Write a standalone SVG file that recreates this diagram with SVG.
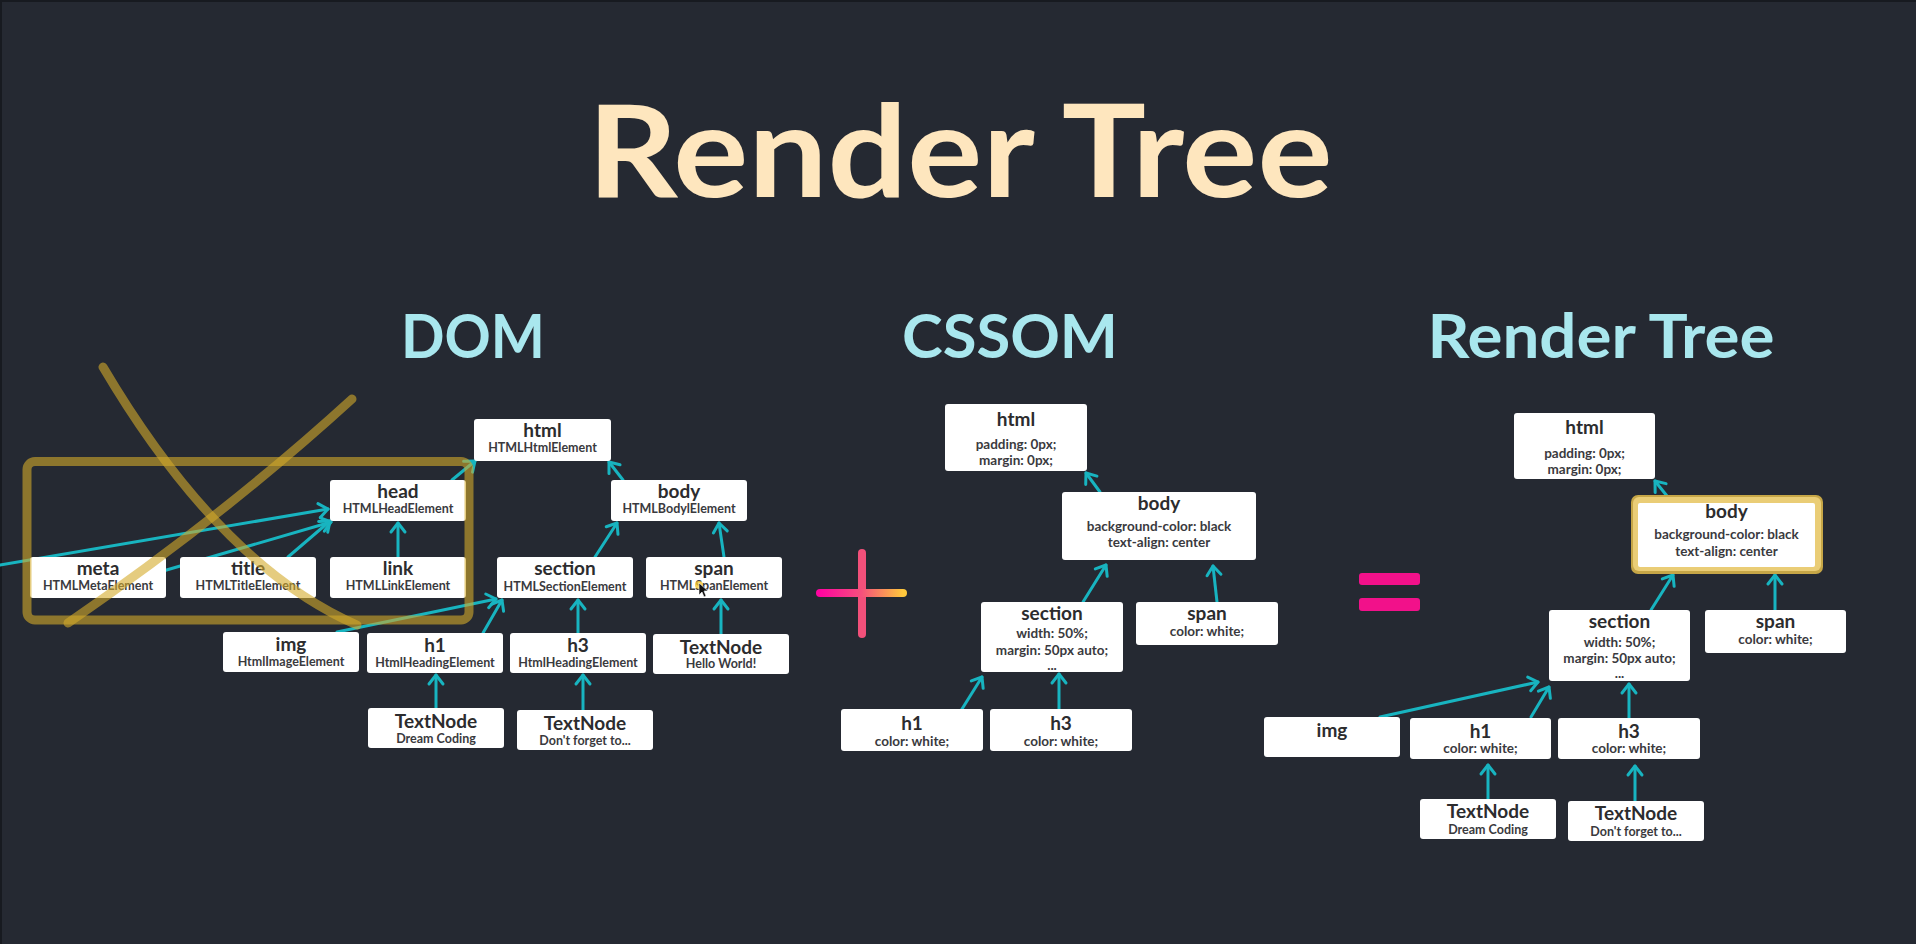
<svg xmlns="http://www.w3.org/2000/svg" width="1916" height="944" viewBox="0 0 1916 944">
  <defs>
    <style>
      .bg { fill: #252932; }
      .box { fill: #ffffff; rx: 3px; ry: 3px; }
      .t { font-family: Lato, "Open Sans", sans-serif; font-weight: 700; font-size: 19px; fill: #2c2c2e; text-anchor: middle; }
      .s { font-family: Lato, "Open Sans", sans-serif; font-weight: 700; font-size: 12.5px; fill: #3a3a3e; text-anchor: middle; }
      .c { font-family: Lato, "Open Sans", sans-serif; font-weight: 700; font-size: 13.5px; fill: #3a3a3e; text-anchor: middle; }
      .h1 { font-family: Lato, "Open Sans", sans-serif; font-weight: 700; fill: #FEE6BE; text-anchor: middle; }
      .h2 { font-family: Lato, "Open Sans", sans-serif; font-weight: 700; fill: #A9E7EE; text-anchor: middle; }
      .edge { fill: none; stroke: #18B4C0; stroke-width: 3; stroke-linecap: round; marker-end: url(#arr); }
      .mark { fill: none; stroke: #D4AA2A; stroke-opacity: 0.6; stroke-width: 9; stroke-linecap: round; }
    </style>
    <marker id="arr" markerUnits="userSpaceOnUse" markerWidth="24" markerHeight="24" viewBox="-12 -12 24 24" refX="0" refY="0" orient="auto" overflow="visible">
      <path d="M-9,-7 L0,0 L-9,7" fill="none" stroke="#18B4C0" stroke-width="3" stroke-linecap="round" stroke-linejoin="round"/>
    </marker>
    <linearGradient id="plusGrad" x1="820" y1="0" x2="903" y2="0" gradientUnits="userSpaceOnUse">
      <stop offset="0" stop-color="#FF05A0"/>
      <stop offset="0.5" stop-color="#F6507C"/>
      <stop offset="1" stop-color="#FFC83C"/>
    </linearGradient>
  </defs>

  <rect class="bg" x="0" y="0" width="1916" height="944"/>
  <rect x="0" y="0" width="1916" height="2" fill="#171a20"/>
  <rect x="0" y="0" width="2" height="944" fill="#171a20"/>

  <!-- headings -->
  <text class="h1" x="960" y="197" font-size="128" textLength="745" lengthAdjust="spacingAndGlyphs">Render Tree</text>
  <text class="h2" x="473" y="358" font-size="62" textLength="144" lengthAdjust="spacingAndGlyphs">DOM</text>
  <text class="h2" x="1010" y="358" font-size="62" textLength="216" lengthAdjust="spacingAndGlyphs">CSSOM</text>
  <text class="h2" x="1601" y="358" font-size="62" textLength="347" lengthAdjust="spacingAndGlyphs">Render Tree</text>

  <!-- connectors -->
  <g id="connectors">
    <!-- DOM -->
    <path class="edge" d="M0,565 L328,509"/>
    <path class="edge" d="M98,590 L331,522"/>
    <path class="edge" d="M288,557 L330,521"/>
    <path class="edge" d="M398,557 L398,523"/>
    <path class="edge" d="M452,480 L475,461"/>
    <path class="edge" d="M623,480 L609,462"/>
    <path class="edge" d="M595,557 L617,523"/>
    <path class="edge" d="M724,557 L719,523"/>
    <path class="edge" d="M337,632 L496,599"/>
    <path class="edge" d="M483,633 L502,600"/>
    <path class="edge" d="M578,633 L578,600"/>
    <path class="edge" d="M721,634 L721,600"/>
    <path class="edge" d="M436,708 L436,675"/>
    <path class="edge" d="M583,710 L583,675"/>
    <!-- CSSOM -->
    <path class="edge" d="M1100,492 L1086,473"/>
    <path class="edge" d="M1083,602 L1106,565"/>
    <path class="edge" d="M1217,602 L1213,566"/>
    <path class="edge" d="M962,709 L982,677"/>
    <path class="edge" d="M1059,709 L1059,674"/>
    <!-- Render Tree -->
    <path class="edge" d="M1667,496 L1655,481"/>
    <path class="edge" d="M1651,610 L1673,575"/>
    <path class="edge" d="M1775,610 L1775,575"/>
    <path class="edge" d="M1380,717 L1538,682"/>
    <path class="edge" d="M1531,717 L1549,687"/>
    <path class="edge" d="M1629,718 L1629,684"/>
    <path class="edge" d="M1488,799 L1488,765"/>
    <path class="edge" d="M1635,801 L1635,766"/>
  </g>

  <!-- DOM nodes -->
  <g id="dom-html"><rect class="box" x="474" y="419" width="137" height="42"/><text class="t" x="542.5" y="437">html</text><text class="s" x="542.5" y="452">HTMLHtmlElement</text></g>
  <g id="dom-head"><rect class="box" x="330" y="480" width="136" height="41"/><text class="t" x="398" y="498">head</text><text class="s" x="398" y="513">HTMLHeadElement</text></g>
  <g id="dom-body"><rect class="box" x="611" y="480" width="136" height="41"/><text class="t" x="679" y="498">body</text><text class="s" x="679" y="513">HTMLBodylElement</text></g>
  <g id="dom-meta"><rect class="box" x="30" y="557" width="136" height="41"/><text class="t" x="98" y="575">meta</text><text class="s" x="98" y="590">HTMLMetaElement</text></g>
  <g id="dom-title"><rect class="box" x="180" y="557" width="136" height="41"/><text class="t" x="248" y="575">title</text><text class="s" x="248" y="590">HTMLTitleElement</text></g>
  <g id="dom-link"><rect class="box" x="330" y="557" width="136" height="41"/><text class="t" x="398" y="575">link</text><text class="s" x="398" y="590">HTMLLinkElement</text></g>
  <g id="dom-section"><rect class="box" x="497" y="557" width="136" height="41"/><text class="t" x="565" y="575">section</text><text class="s" x="565" y="591">HTMLSectionElement</text></g>
  <g id="dom-span"><rect class="box" x="646" y="557" width="136" height="41"/><text class="t" x="714" y="575">span</text><text class="s" x="714" y="590">HTMLSpanElement</text></g>
  <g id="dom-img"><rect class="box" x="223" y="632" width="136" height="40"/><text class="t" x="291" y="651">img</text><text class="s" x="291" y="666">HtmlImageElement</text></g>
  <g id="dom-h1"><rect class="box" x="367" y="633" width="136" height="40"/><text class="t" x="435" y="652">h1</text><text class="s" x="435" y="667">HtmlHeadingElement</text></g>
  <g id="dom-h3"><rect class="box" x="510" y="633" width="136" height="40"/><text class="t" x="578" y="652">h3</text><text class="s" x="578" y="667">HtmlHeadingElement</text></g>
  <g id="dom-text-hello"><rect class="box" x="653" y="634" width="136" height="40"/><text class="t" x="721" y="654">TextNode</text><text class="s" x="721" y="668">Hello World!</text></g>
  <g id="dom-text-dream"><rect class="box" x="368" y="708" width="136" height="40"/><text class="t" x="436" y="728">TextNode</text><text class="s" x="436" y="743">Dream Coding</text></g>
  <g id="dom-text-forget"><rect class="box" x="517" y="710" width="136" height="40"/><text class="t" x="585" y="730">TextNode</text><text class="s" x="585" y="745">Don't forget to...</text></g>

  <!-- pointer over the span box -->
  <g id="pointer">
    <circle cx="699" cy="585" r="4" fill="#F2C630" opacity="0.8"/>
    <path d="M699,583 L699,595 L702,592 L704,597 L706,596 L704,591 L708,591 Z" fill="#111" stroke="#fff" stroke-width="0.6"/>
  </g>

  <!-- crossed-out head subtree -->
  <g id="strike">
    <rect class="mark" x="27" y="461.5" width="442" height="158.5" rx="8"/>
    <path class="mark" d="M103,367 Q220,565 357,625"/>
    <path class="mark" d="M352,399 Q225,515 68,623"/>
  </g>

  <!-- CSSOM nodes -->
  <g id="css-html"><rect class="box" x="945" y="404" width="142" height="67"/><text class="t" x="1016" y="426">html</text><text class="c" x="1016" y="449">padding: 0px;</text><text class="c" x="1016" y="465">margin: 0px;</text></g>
  <g id="css-body"><rect class="box" x="1062" y="492" width="194" height="68"/><text class="t" x="1159" y="510">body</text><text class="c" x="1159" y="531">background-color: black</text><text class="c" x="1159" y="547">text-align: center</text></g>
  <g id="css-section"><rect class="box" x="981" y="602" width="142" height="70"/><text class="t" x="1052" y="620">section</text><text class="c" x="1052" y="638">width: 50%;</text><text class="c" x="1052" y="655">margin: 50px auto;</text><text class="c" x="1052" y="670">...</text></g>
  <g id="css-span"><rect class="box" x="1136" y="602" width="142" height="43"/><text class="t" x="1207" y="620">span</text><text class="c" x="1207" y="636">color: white;</text></g>
  <g id="css-h1"><rect class="box" x="841" y="709" width="142" height="42"/><text class="t" x="912" y="730">h1</text><text class="c" x="912" y="746">color: white;</text></g>
  <g id="css-h3"><rect class="box" x="990" y="709" width="142" height="42"/><text class="t" x="1061" y="730">h3</text><text class="c" x="1061" y="746">color: white;</text></g>

  <!-- plus -->
  <g id="plus">
    <line x1="862" y1="553" x2="862" y2="634" stroke="#F2507A" stroke-width="8" stroke-linecap="round"/>
    <line x1="820" y1="593" x2="903" y2="593" stroke="url(#plusGrad)" stroke-width="8" stroke-linecap="round"/>
  </g>

  <!-- equals -->
  <g id="equals">
    <rect x="1359" y="573" width="61" height="12" rx="3" fill="#F2118A"/>
    <rect x="1359" y="598" width="61" height="13" rx="3" fill="#F2118A"/>
  </g>

  <!-- Render Tree nodes -->
  <g id="rt-html"><rect class="box" x="1514" y="413" width="141" height="66"/><text class="t" x="1584.5" y="434">html</text><text class="c" x="1584.5" y="458">padding: 0px;</text><text class="c" x="1584.5" y="474">margin: 0px;</text></g>
  <g id="rt-body">
    <rect x="1631" y="495" width="192" height="79" rx="7" fill="#C6A647"/>
    <rect x="1633" y="497" width="188" height="74" rx="6" fill="#EACD76"/>
    <rect x="1638" y="503" width="177" height="64" rx="2" fill="#ffffff"/>
    <text class="t" x="1726.5" y="518">body</text><text class="c" x="1726.5" y="539">background-color: black</text><text class="c" x="1726.5" y="556">text-align: center</text>
  </g>
  <g id="rt-section"><rect class="box" x="1549" y="610" width="141" height="71"/><text class="t" x="1619.5" y="628">section</text><text class="c" x="1619.5" y="647">width: 50%;</text><text class="c" x="1619.5" y="663">margin: 50px auto;</text><text class="c" x="1619.5" y="678">...</text></g>
  <g id="rt-span"><rect class="box" x="1705" y="610" width="141" height="43"/><text class="t" x="1775.5" y="628">span</text><text class="c" x="1775.5" y="644">color: white;</text></g>
  <g id="rt-img"><rect class="box" x="1264" y="717" width="136" height="40"/><text class="t" x="1332" y="737">img</text></g>
  <g id="rt-h1"><rect class="box" x="1410" y="718" width="141" height="41"/><text class="t" x="1480.5" y="738">h1</text><text class="c" x="1480.5" y="753">color: white;</text></g>
  <g id="rt-h3"><rect class="box" x="1558" y="718" width="142" height="41"/><text class="t" x="1629" y="738">h3</text><text class="c" x="1629" y="753">color: white;</text></g>
  <g id="rt-text-dream"><rect class="box" x="1420" y="799" width="136" height="40"/><text class="t" x="1488" y="818">TextNode</text><text class="s" x="1488" y="834">Dream Coding</text></g>
  <g id="rt-text-forget"><rect class="box" x="1568" y="801" width="136" height="40"/><text class="t" x="1636" y="820">TextNode</text><text class="s" x="1636" y="836">Don't forget to...</text></g>
</svg>
